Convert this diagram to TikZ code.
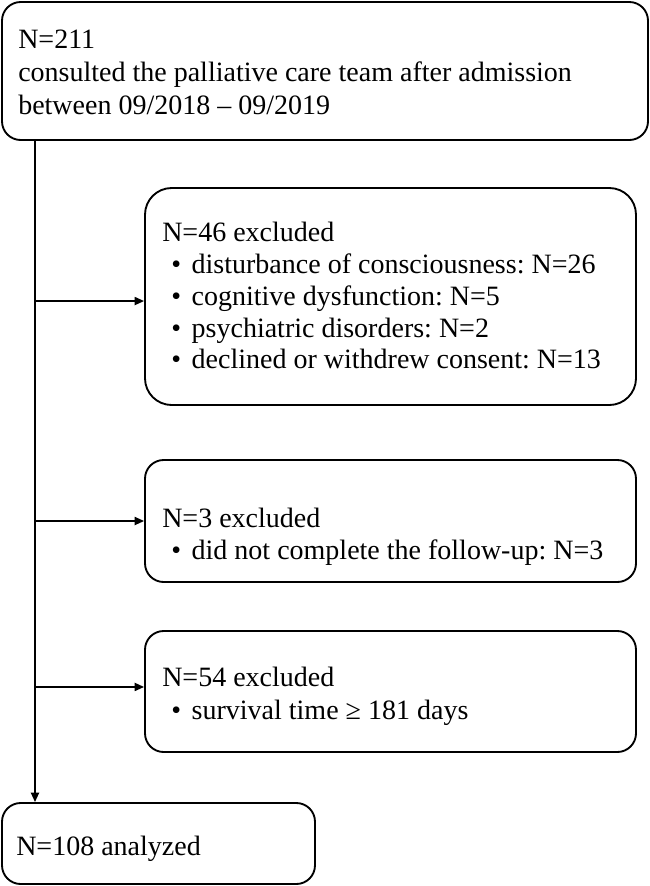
\documentclass[tikz,border=0pt]{standalone}
\usepackage{fontspec}
\setmainfont{Liberation Serif}
\usetikzlibrary{arrows.meta}
\frenchspacing
\newcommand{\bul}{\textbullet\hspace{8pt}}
\begin{document}
\begin{tikzpicture}[x=0.75pt,y=-0.75pt,
  box/.style={draw, line width=1.4pt, rounded corners=14pt, inner sep=0pt, fill=white},
  txt/.style={anchor=base west, inner sep=0pt, font=\fontsize{21}{25}\selectfont},
  conn/.style={line width=1.3pt, -{Triangle[length=7pt,width=6pt]}}]
\useasboundingbox (0,0) rectangle (650,886);
% boxes
\node[box, minimum width=484.5pt, minimum height=103.5pt] (b1) at (325,71) {};
\node[box, rounded corners=20pt, minimum width=368.25pt, minimum height=162.75pt] (b2) at (390.5,296.5) {};
\node[box, minimum width=368.25pt, minimum height=91.5pt] (b3) at (390.5,521) {};
\node[box, minimum width=368.25pt, minimum height=90.75pt] (b4) at (390.5,691.5) {};
\node[box, minimum width=234.75pt, minimum height=60.75pt] (b5) at (158.5,843.5) {};
% texts
\node[txt] (t1a) at (18,48) {N=211};
\node[txt] (t1b) at (18,81) {consulted the palliative care team after admission};
\node[txt] (t1c) at (18,114) {between 09/2018 -- 09/2019};
\node[txt] (t2a) at (162,241) {N=46 excluded};
\node[txt] (t2b) at (171,273) {\bul disturbance of consciousness: N=26};
\node[txt] (t2c) at (171,305) {\bul cognitive dysfunction: N=5};
\node[txt] (t2d) at (171,337) {\bul psychiatric disorders: N=2};
\node[txt] (t2e) at (171,368) {\bul declined or withdrew consent: N=13};
\node[txt] (t3a) at (162,527) {N=3 excluded};
\node[txt] (t3b) at (171,559) {\bul did not complete the follow-up: N=3};
\node[txt] (t4a) at (162,686) {N=54 excluded};
\node[txt] (t4b) at (171,719) {\bul survival time ≥ 181 days};
\node[txt] (t5a) at (16,855) {N=108 analyzed};
% connectors
\coordinate (trunk) at (35,0);
\draw[conn] (b1.south -| trunk) -- (b5.north -| trunk);
\draw[conn] ([yshift=-3.4pt]b2.west -| trunk) -- ([yshift=-3.4pt]b2.west);
\draw[conn] (b3.west -| trunk) -- (b3.west);
\draw[conn] ([yshift=3.4pt]b4.west -| trunk) -- ([yshift=3.4pt]b4.west);
\end{tikzpicture}
\end{document}
